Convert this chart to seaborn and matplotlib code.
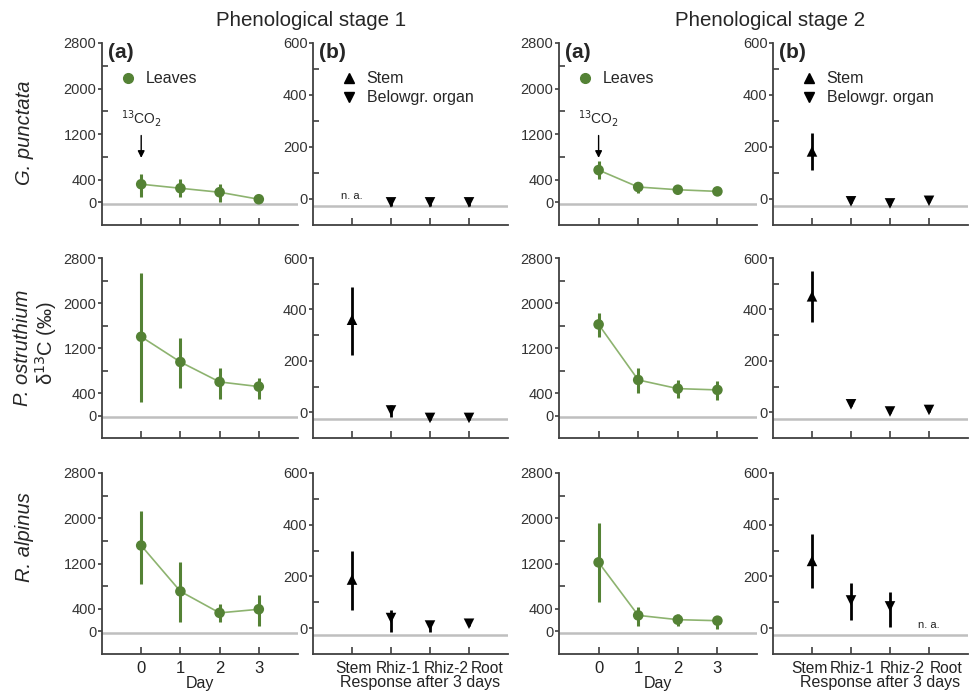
import numpy as np
import pandas as pd
import matplotlib.pyplot as plt
import matplotlib.transforms as mtransforms
import seaborn as sns
from matplotlib.lines import Line2D

sns.set_theme(style="ticks")
plt.rcParams['font.family'] = ['Liberation Sans', 'DejaVu Sans']

# ---- data (delta13C, permil) ----
days = [0, 1, 2, 3]
organs = ["Stem", "Rhiz-1", "Rhiz-2", "Root"]
species = ["G. punctata", "P. ostruthium", "R. alpinus"]
natural = -27  # grey reference line

# leaves, stage 1
gp_s1_leaf = [317, 246, 176, 53]
gp_s1_leaf_lo = [88, 88, 0, 20]
gp_s1_leaf_hi = [493, 405, 317, 85]
po_s1_leaf = [1400, 951, 597, 514]
po_s1_leaf_lo = [237, 485, 296, 296]
po_s1_leaf_hi = [2534, 1371, 851, 673]
ra_s1_leaf = [1518, 707, 327, 391]
ra_s1_leaf_lo = [841, 170, 170, 100]
ra_s1_leaf_hi = [2126, 1222, 479, 637]

# leaves, stage 2
gp_s2_leaf = [566, 268, 220, 191]
gp_s2_leaf_lo = [417, 166, 170, 150]
gp_s2_leaf_hi = [733, 357, 270, 230]
po_s2_leaf = [1619, 632, 478, 455]
po_s2_leaf_lo = [1389, 396, 307, 278]
po_s2_leaf_hi = [1814, 840, 632, 614]
ra_s2_leaf = [1220, 283, 207, 189]
ra_s2_leaf_lo = [513, 88, 90, 50]
ra_s2_leaf_hi = [1916, 424, 300, 265]

# stem / belowground organs after 3 days, stage 1
gp_s1_org = [np.nan, -13, -13, -13]
gp_s1_org_lo = [np.nan, -25, -25, -25]
gp_s1_org_hi = [np.nan, -3, -3, -3]
po_s1_org = [360, 7, -22, -22]
po_s1_org_lo = [221, -19, -30, -30]
po_s1_org_hi = [487, 30, -15, -15]
ra_s1_org = [188, 39, 10, 17]
ra_s1_org_lo = [72, -13, -15, 10]
ra_s1_org_hi = [297, 72, 20, 25]

# stage 2
gp_s2_org = [183, -9, -17, -7]
gp_s2_org_lo = [113, -15, -22, -12]
gp_s2_org_hi = [252, -3, -10, -2]
po_s2_org = [451, 31, 3, 9]
po_s2_org_lo = [352, 25, -3, 3]
po_s2_org_hi = [548, 37, 9, 15]
ra_s2_org = [260, 107, 84, np.nan]
ra_s2_org_lo = [155, 32, 6, np.nan]
ra_s2_org_hi = [363, 174, 139, np.nan]

leaf = [[(gp_s1_leaf, gp_s1_leaf_lo, gp_s1_leaf_hi), (gp_s2_leaf, gp_s2_leaf_lo, gp_s2_leaf_hi)],
        [(po_s1_leaf, po_s1_leaf_lo, po_s1_leaf_hi), (po_s2_leaf, po_s2_leaf_lo, po_s2_leaf_hi)],
        [(ra_s1_leaf, ra_s1_leaf_lo, ra_s1_leaf_hi), (ra_s2_leaf, ra_s2_leaf_lo, ra_s2_leaf_hi)]]
org = [[(gp_s1_org, gp_s1_org_lo, gp_s1_org_hi), (gp_s2_org, gp_s2_org_lo, gp_s2_org_hi)],
       [(po_s1_org, po_s1_org_lo, po_s1_org_hi), (po_s2_org, po_s2_org_lo, po_s2_org_hi)],
       [(ra_s1_org, ra_s1_org_lo, ra_s1_org_hi), (ra_s2_org, ra_s2_org_lo, ra_s2_org_hi)]]

GREEN = '#548235'
LGREEN = '#8db36f'
AX = '#404040'
W, H = 973, 693

fig = plt.figure(figsize=(W / 100, H / 100), dpi=100)

# pixel boxes (left, right) / (top, bottom)
cols = [(102, 298), (313, 508), (559, 757), (773, 968)]
rows = [(43, 225), (258, 438), (473, 654)]
# organ labels are typed as one running line in the original, not centred on ticks
label_shift = [[1.5, 7.5, 16, 18], [-3, 1, 12, 17]]


def make_ax(c, r):
    l, rr = cols[c]
    t, b = rows[r]
    return fig.add_axes([l / W, 1 - b / H, (rr - l) / W, (b - t) / H])


def style(ax, xsize=11.5):
    for s in ['top', 'right']:
        ax.spines[s].set_visible(False)
    for s in ['left', 'bottom']:
        ax.spines[s].set_color(AX)
        ax.spines[s].set_linewidth(1.3)
    ax.tick_params(axis='y', which='major', direction='out', length=3, width=1.2,
                   color=AX, labelsize=10.5, labelcolor='#333333', pad=1)
    ax.tick_params(axis='y', which='minor', direction='in', length=4, width=1.2, color=AX)
    ax.tick_params(axis='x', direction='in', length=5, width=1.2, color=AX,
                   labelsize=xsize, labelcolor='#222222', pad=5)
    ax.set_facecolor('white')
    ax.grid(False)


for r in range(3):
    for st in range(2):
        # leaves panel
        ax = make_ax(2 * st, r)
        vals, lo, hi = leaf[r][st]
        df = pd.DataFrame({'day': days, 'v': vals})
        ax.axhline(natural, color='#bfbfbf', lw=1.8, zorder=1)
        sns.lineplot(data=df, x='day', y='v', ax=ax, color=LGREEN, lw=1.2, zorder=2)
        ax.vlines(days, lo, hi, color=GREEN, lw=2.2, zorder=3)
        sns.scatterplot(data=df, x='day', y='v', ax=ax, color=GREEN, s=58,
                        edgecolor='none', zorder=4)
        ax.set_xlim(-1, 4)
        ax.set_ylim(-400, 2800)
        ax.set_yticks([0, 400, 1200, 2000, 2800])
        ax.set_yticks([800, 1600, 2400], minor=True)
        ax.set_xticks(days)
        ax.set_ylabel('')
        if r == 2:
            ax.set_xticklabels([str(d) for d in days])
            ax.set_xlabel('Day', fontsize=11.5, labelpad=0, color='#222222')
        else:
            ax.set_xticklabels([])
            ax.set_xlabel('')
        style(ax, xsize=12)
        if r == 0:
            ax.text(0.03, 1.0, '(a)', transform=ax.transAxes, fontsize=15,
                    fontweight='bold', va='top', ha='left')
            h = [Line2D([], [], marker='o', ls='none', color=GREEN, ms=7)]
            ax.legend(h, ['Leaves'], loc='upper left', bbox_to_anchor=(0.02, 0.88),
                      frameon=False, fontsize=11.5, handletextpad=0.1, borderaxespad=0)
            ax.annotate('$^{13}$CO$_2$', xy=(0, 780), xytext=(0, 1280),
                        ha='center', va='bottom', fontsize=10,
                        arrowprops=dict(arrowstyle='-|>', color='black', lw=1,
                                        mutation_scale=10, shrinkA=2, shrinkB=0))

        # organs panel
        ax = make_ax(2 * st + 1, r)
        vals, lo, hi = org[r][st]
        x = np.arange(len(organs))
        df = pd.DataFrame({'x': x, 'v': vals,
                           'kind': ['Stem'] + ['Belowgr. organ'] * 3})
        ax.axhline(natural, color='#bfbfbf', lw=1.8, zorder=1)
        ax.vlines(x, lo, hi, color='black', lw=2.0, zorder=3)
        sns.scatterplot(data=df, x='x', y='v', style='kind',
                        markers={'Stem': '^', 'Belowgr. organ': 'v'},
                        ax=ax, color='black', s=58, edgecolor='none', zorder=4,
                        legend=False)
        ax.set_xlim(-1, 4)
        ax.set_ylim(-100, 600)
        ax.set_yticks([0, 200, 400, 600])
        ax.set_yticks([100, 300, 500], minor=True)
        ax.set_xticks(x)
        ax.set_ylabel('')
        for i, v in enumerate(vals):
            if np.isnan(v):
                ax.text(x[i], natural + 20, 'n. a.', ha='center', va='bottom',
                        fontsize=8, color='#222222')
        style(ax, xsize=11.2)
        if r == 2:
            ax.set_xticklabels(organs)
            for lab, dx in zip(ax.get_xticklabels(), label_shift[st]):
                off = mtransforms.ScaledTranslation(dx / 100, 0, fig.dpi_scale_trans)
                lab.set_transform(lab.get_transform() + off)
            ax.set_xlabel('Response after 3 days', fontsize=11.5, labelpad=0, color='#222222')
            ax.xaxis.set_label_coords(0.55, -0.115)
        else:
            ax.set_xticklabels([])
            ax.set_xlabel('')
        if r == 0:
            ax.text(0.03, 1.0, '(b)', transform=ax.transAxes, fontsize=15,
                    fontweight='bold', va='top', ha='left')
            h = [Line2D([], [], marker='^', ls='none', color='black', ms=6.5),
                 Line2D([], [], marker='v', ls='none', color='black', ms=6.5)]
            ax.legend(h, ['Stem', 'Belowgr. organ'], loc='upper left',
                      bbox_to_anchor=(0.07, 0.88), frameon=False, fontsize=11.5,
                      handletextpad=0.1, borderaxespad=0, labelspacing=0.25)

# titles
fig.text(311 / W, 1 - 20 / H, 'Phenological stage 1', ha='center', va='center', fontsize=14.8)
fig.text(770 / W, 1 - 20 / H, 'Phenological stage 2', ha='center', va='center', fontsize=14.8)

# row labels
fig.text(25 / W, 1 - 133 / H, 'G. punctata', rotation=90, ha='center', va='center',
         fontsize=14.5, style='italic')
fig.text(23 / W, 1 - 348 / H, 'P. ostruthium', rotation=90, ha='center', va='center',
         fontsize=14.5, style='italic')
fig.text(46 / W, 1 - 343 / H, 'δ$^{13}$C (‰)', rotation=90, ha='center', va='center',
         fontsize=14.5)
fig.text(25 / W, 1 - 537 / H, 'R. alpinus', rotation=90, ha='center', va='center',
         fontsize=14.5, style='italic')

fig.savefig('out.png', dpi=100, facecolor='white')
